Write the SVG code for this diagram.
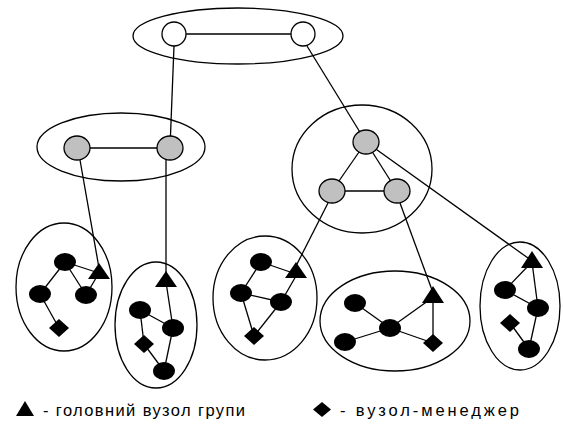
<svg xmlns="http://www.w3.org/2000/svg" width="563" height="432" viewBox="0 0 563 432">
<style>
.grp{fill:none;stroke:#000;stroke-width:1.3}
.con line{stroke:#000;stroke-width:1.3}
.w{fill:#fff;stroke:#000;stroke-width:1.3}
.g{fill:#c0c0c0;stroke:#000;stroke-width:1.3}
.b{fill:#000}
.t{font-family:"Liberation Sans",Arial,sans-serif;font-size:16.5px;fill:#000}
</style>
<rect width="563" height="432" fill="#fff"/>
<g id="groups">
<ellipse id="grp-top" class="grp" cx="238" cy="36" rx="105" ry="28"/>
<ellipse id="grp-left" class="grp" cx="121" cy="147" rx="84" ry="34"/>
<ellipse id="grp-right" class="grp" cx="362" cy="169" rx="70" ry="64"/>
<ellipse id="grp-c1" class="grp" cx="64" cy="287" rx="48" ry="64"/>
<ellipse id="grp-c2" class="grp" cx="156" cy="325" rx="41" ry="63"/>
<ellipse id="grp-c3" class="grp" cx="265" cy="298" rx="52" ry="62"/>
<ellipse id="grp-c4" class="grp" cx="395" cy="321" rx="75" ry="50"/>
<ellipse id="grp-c5" class="grp" cx="520" cy="306" rx="40" ry="64"/>
</g>
<g id="connectors" class="con">
<line x1="174" y1="34" x2="303" y2="34"/>
<line x1="174" y1="46" x2="170" y2="148"/>
<line x1="307" y1="46" x2="366" y2="142"/>
<line x1="77" y1="148" x2="170" y2="148"/>
<line x1="80" y1="160" x2="99" y2="268"/>
<line x1="166" y1="160" x2="166" y2="276"/>
<line x1="366" y1="142" x2="332" y2="191"/>
<line x1="366" y1="142" x2="397" y2="191"/>
<line x1="332" y1="191" x2="397" y2="191"/>
<line x1="366" y1="142" x2="528" y2="258"/>
<line x1="328" y1="203" x2="296" y2="266"/>
<line x1="400" y1="203" x2="432" y2="290"/>
<line x1="65" y1="262" x2="99" y2="273"/>
<line x1="65" y1="262" x2="40" y2="294"/>
<line x1="65" y1="262" x2="86" y2="295"/>
<line x1="86" y1="295" x2="99" y2="273"/>
<line x1="40" y1="294" x2="59" y2="328"/>
<line x1="166" y1="282" x2="173" y2="328"/>
<line x1="140" y1="310" x2="173" y2="328"/>
<line x1="140" y1="310" x2="144" y2="344"/>
<line x1="144" y1="344" x2="164" y2="371"/>
<line x1="173" y1="328" x2="164" y2="371"/>
<line x1="261" y1="262" x2="296" y2="274"/>
<line x1="261" y1="262" x2="241" y2="293"/>
<line x1="241" y1="293" x2="281" y2="302"/>
<line x1="281" y1="302" x2="296" y2="276"/>
<line x1="241" y1="293" x2="254" y2="336"/>
<line x1="281" y1="302" x2="254" y2="336"/>
<line x1="355" y1="303" x2="390" y2="328"/>
<line x1="390" y1="328" x2="345" y2="342"/>
<line x1="390" y1="328" x2="432" y2="298"/>
<line x1="390" y1="328" x2="433" y2="343"/>
<line x1="433" y1="298" x2="433" y2="343"/>
<line x1="530" y1="264" x2="505" y2="290"/>
<line x1="532" y1="262" x2="538" y2="308"/>
<line x1="505" y1="290" x2="538" y2="308"/>
<line x1="538" y1="308" x2="529" y2="349"/>
<line x1="510" y1="323" x2="529" y2="349"/>
</g>
<g id="n-top1"><circle class="w" cx="174" cy="34" r="12"/></g>
<g id="n-top2"><circle class="w" cx="303" cy="34" r="12"/></g>
<g id="n-l1"><ellipse class="g" cx="77" cy="148" rx="13" ry="12"/></g>
<g id="n-l2"><ellipse class="g" cx="170" cy="148" rx="13" ry="12"/></g>
<g id="n-r1"><ellipse class="g" cx="366" cy="142" rx="13" ry="12"/></g>
<g id="n-r2"><ellipse class="g" cx="332" cy="191" rx="13" ry="12"/></g>
<g id="n-r3"><ellipse class="g" cx="397" cy="191" rx="13" ry="12"/></g>
<g id="c1-head"><polygon class="b" points="99,263 88,279 110,279"/></g>
<g id="c1-n1"><ellipse class="b" cx="65" cy="262" rx="11" ry="9"/></g>
<g id="c1-n2"><ellipse class="b" cx="40" cy="294" rx="11" ry="9"/></g>
<g id="c1-n3"><ellipse class="b" cx="86" cy="295" rx="11" ry="9"/></g>
<g id="c1-mgr"><polygon class="b" points="59,319 69,328 59,337 49,328"/></g>
<g id="c2-head"><polygon class="b" points="166,271 155,287 177,287"/></g>
<g id="c2-n1"><ellipse class="b" cx="140" cy="310" rx="11" ry="9"/></g>
<g id="c2-n2"><ellipse class="b" cx="173" cy="328" rx="11" ry="9"/></g>
<g id="c2-n3"><ellipse class="b" cx="164" cy="371" rx="11" ry="9"/></g>
<g id="c2-mgr"><polygon class="b" points="144,335 154,344 144,353 134,344"/></g>
<g id="c3-head"><polygon class="b" points="296,262 285,278 307,278"/></g>
<g id="c3-n1"><ellipse class="b" cx="261" cy="262" rx="11" ry="9"/></g>
<g id="c3-n2"><ellipse class="b" cx="241" cy="293" rx="11" ry="9"/></g>
<g id="c3-n3"><ellipse class="b" cx="281" cy="302" rx="11" ry="9"/></g>
<g id="c3-mgr"><polygon class="b" points="254,327 264,336 254,345 244,336"/></g>
<g id="c4-head"><polygon class="b" points="433,286 422,303 444,303"/></g>
<g id="c4-n1"><ellipse class="b" cx="355" cy="303" rx="11" ry="9"/></g>
<g id="c4-n2"><ellipse class="b" cx="390" cy="328" rx="11" ry="9"/></g>
<g id="c4-n3"><ellipse class="b" cx="345" cy="342" rx="11" ry="9"/></g>
<g id="c4-mgr"><polygon class="b" points="433,334 443,343 433,352 423,343"/></g>
<g id="c5-head"><polygon class="b" points="532,251 521,268 543,268"/></g>
<g id="c5-n1"><ellipse class="b" cx="505" cy="290" rx="11" ry="9"/></g>
<g id="c5-n2"><ellipse class="b" cx="538" cy="308" rx="11" ry="9"/></g>
<g id="c5-n3"><ellipse class="b" cx="529" cy="349" rx="11" ry="9"/></g>
<g id="c5-mgr"><polygon class="b" points="510,314 520,323 510,332 500,323"/></g>
<g id="legend">
<polygon class="b" points="25,401 16,416 34,416"/>
<text class="t" x="43" y="416" textLength="202" lengthAdjust="spacing">- головний вузол групи</text>
<polygon class="b" points="322,402 331,409.5 322,417 313,409.5"/>
<text class="t" x="340" y="416" textLength="179" lengthAdjust="spacing">- вузол-менеджер</text>
</g>
</svg>
